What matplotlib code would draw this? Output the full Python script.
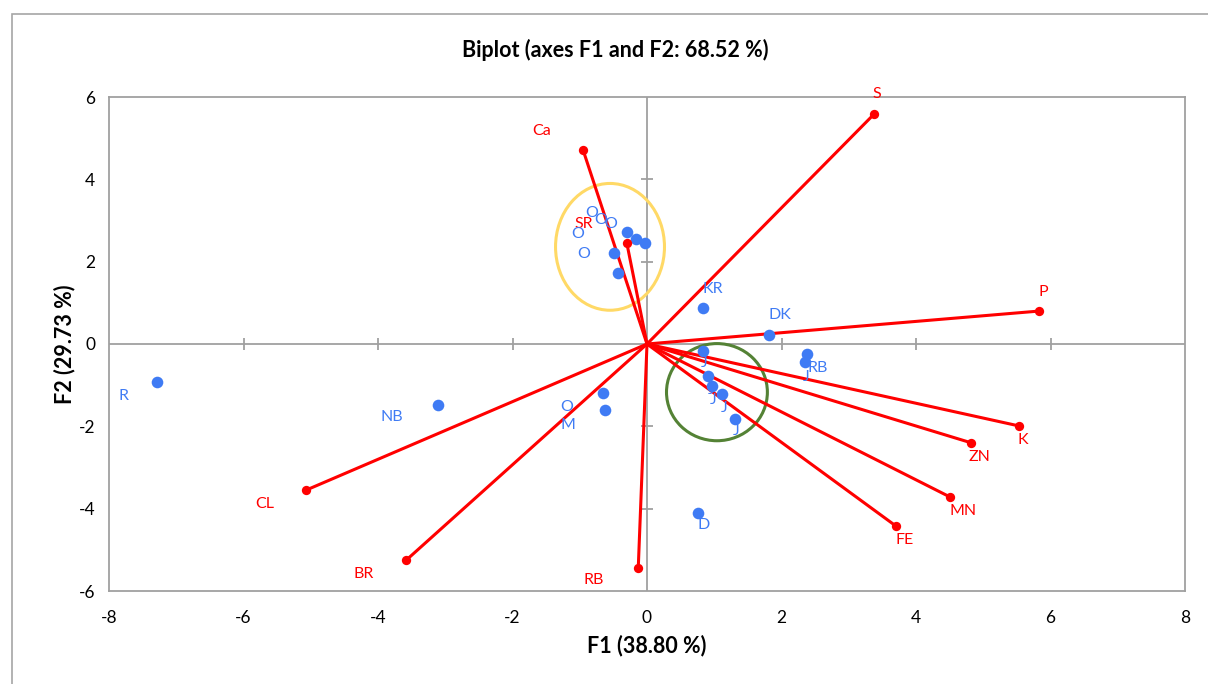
import numpy as np
import matplotlib.pyplot as plt
from matplotlib.patches import Ellipse, Rectangle

plt.rcParams["font.family"] = ["Lato", "DejaVu Sans"]
plt.rcParams["axes.unicode_minus"] = False

# observations (blue)
obs_labels = ["R", "NB", "O", "M", "O", "O", "O", "O", "O",
              "KR", "DK", "J", "J", "J", "J", "J", "RB", "J", "D"]
obs_x = [-7.29, -3.11, -0.65, -0.62, -0.30, -0.17, -0.03, -0.49, -0.43,
         0.83, 1.81, 0.83, 0.91, 0.97, 1.12, 1.31, 2.38, 2.35, 0.76]
obs_y = [-0.92, -1.48, -1.19, -1.60, 2.72, 2.55, 2.45, 2.21, 1.72,
         0.87, 0.22, -0.17, -0.78, -1.02, -1.21, -1.82, -0.24, -0.44, -4.10]

# variables (red)
var_labels = ["S", "Ca", "SR", "P", "K", "ZN", "MN", "FE", "RB", "BR", "CL"]
var_x = [3.38, -0.95, -0.30, 5.83, 5.53, 4.82, 4.51, 3.70, -0.13, -3.58, -5.07]
var_y = [5.59, 4.71, 2.45, 0.80, -1.99, -2.40, -3.72, -4.42, -5.44, -5.25, -3.55]

# label offsets (points)
obs_off = [(-24, -10), (-33, -9), (-26, -10), (-27, -11), (-25, 14), (-25, 14),
           (-25, 14), (-26, 14), (-25, 14), (7, 14), (8, 14), (1, -9),
           (2, -10), (1, -10), (1, -10), (1, -9), (8, -10), (1, -11), (4, -9)]
var_off = [(2, 14), (-30, 14), (-31, 14), (3, 14), (3, -10), (6, -10),
           (9, -10), (6, -10), (-32, -9), (-31, -10), (-30, -10)]

blue = "#3F7BF4"
red = "#FF0000"
grey = "#A0A0A0"

fig = plt.figure(figsize=(12.08, 6.84), dpi=100)
ax = fig.add_axes([109 / 1208, 1 - 591 / 684, 1076 / 1208, 494 / 684])

# outer chart frame
fig.patches.append(Rectangle((12 / 1208, -0.1), 1.2, 1 - 14 / 684 + 0.1,
                             transform=fig.transFigure, fill=False,
                             edgecolor="#A6A6A6", linewidth=1.2))

ax.set_xlim(-8, 8)
ax.set_ylim(-6, 6)
ax.set_xticks(np.arange(-8, 9, 2))
ax.set_yticks(np.arange(-6, 7, 2))
ax.tick_params(length=0, labelsize=12.5, pad=14)
ax.tick_params(axis="y", pad=10)
for s in ax.spines.values():
    s.set_color(grey)
    s.set_linewidth(1.3)

# centre axes with tick crosses
ax.axhline(0, color=grey, lw=1.3, zorder=1)
ax.axvline(0, color=grey, lw=1.3, zorder=1)
xt = [t for t in ax.get_xticks() if t not in (-8, 0, 8)]
yt = [t for t in ax.get_yticks() if t not in (-6, 0, 6)]
ax.plot(xt, np.zeros(len(xt)), ls="none", marker="|", ms=9, mew=1.3, color=grey, zorder=1)
ax.plot(np.zeros(len(yt)), yt, ls="none", marker="_", ms=9, mew=1.3, color=grey, zorder=1)

# ellipses
ax.add_patch(Ellipse((-0.55, 2.36), 1.62, 3.08, fill=False, edgecolor="#FFD966", lw=2.2, zorder=2))
ax.add_patch(Ellipse((1.04, -1.17), 1.50, 2.36, fill=False, edgecolor="#548235", lw=2.2, zorder=2))

# variable vectors
for x, y in zip(var_x, var_y):
    ax.plot([0, x], [0, y], color=red, lw=2.2, zorder=3)
ax.scatter(var_x, var_y, s=45, color=red, zorder=5, linewidths=0)
for lab, x, y, off in zip(var_labels, var_x, var_y, var_off):
    ax.annotate(lab, (x, y), xytext=off, textcoords="offset points",
                ha="center", va="center", color=red, fontsize=11.5)

# observations
ax.scatter(obs_x, obs_y, s=70, color=blue, zorder=4, linewidths=0)
for lab, x, y, off in zip(obs_labels, obs_x, obs_y, obs_off):
    ax.annotate(lab, (x, y), xytext=off, textcoords="offset points",
                ha="center", va="center", color=blue, fontsize=11.5)

ax.set_xlabel("F1 (38.80 %)", fontsize=15.5, fontweight="bold", labelpad=6)
ax.set_ylabel("F2 (29.73 %)", fontsize=15.5, fontweight="bold", labelpad=2)
fig.text(615 / 1208, 1 - 50 / 684, "Biplot (axes F1 and F2: 68.52 %)",
         ha="center", va="center", fontsize=15.5, fontweight="bold")

fig.savefig("out.png", dpi=100)
